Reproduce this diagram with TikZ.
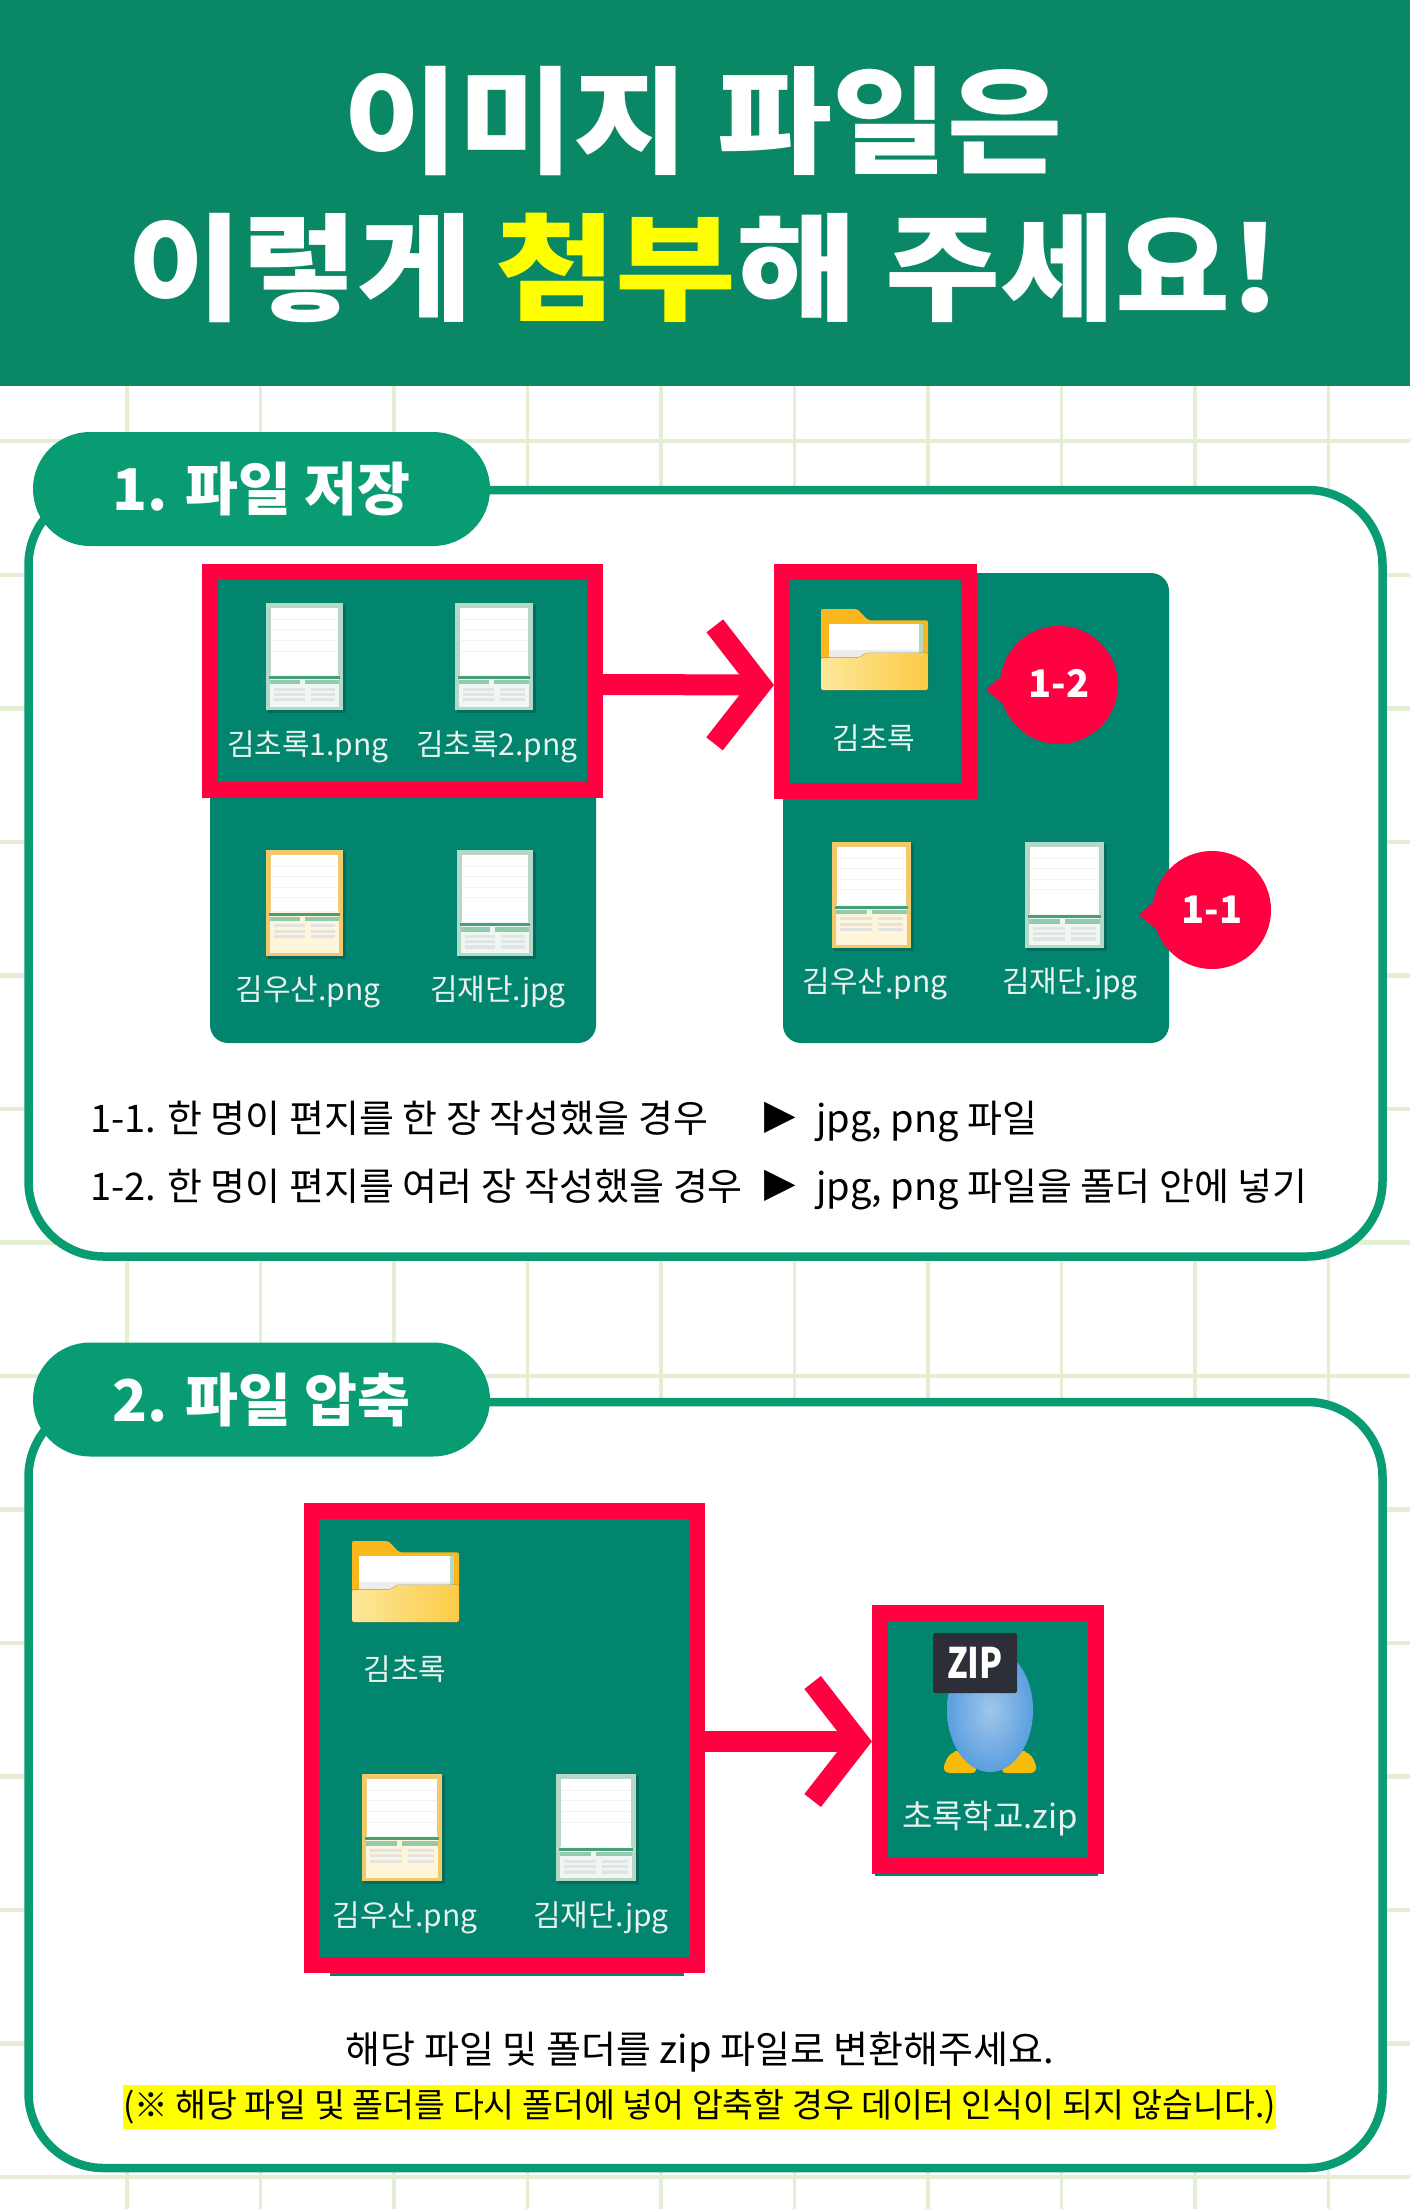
\documentclass[tikz,border=0pt]{standalone}
\usepackage{fontspec}
\usetikzlibrary{arrows.meta}
\setmainfont{Noto Sans CJK KR}
\newfontfamily\krblack{Noto Sans CJK KR Black}
\newfontfamily\symfont{DejaVu Sans}
\newcommand\pxsize[1]{\fontsize{#1}{#1}\selectfont}
\definecolor{headgreen}{HTML}{0A8866}
\definecolor{pillgreen}{HTML}{099C73}
\definecolor{gridgreen}{HTML}{E3EED5}
\definecolor{hotred}{HTML}{FF0040}
\definecolor{teal1}{HTML}{02856F}
\definecolor{hiyellow}{HTML}{FFFF00}
\definecolor{labelwhite}{HTML}{E9F2EF}
\definecolor{docgreen}{HTML}{B5D8C8}
\definecolor{docyellow}{HTML}{EFC96C}
\definecolor{docband}{HTML}{45A07A}
\definecolor{docbox}{HTML}{93C9AE}
\definecolor{lowgreen}{HTML}{EEF7F2}
\definecolor{lowyellow}{HTML}{FFF5D8}
\definecolor{tabyellow}{HTML}{FBB81E}
\definecolor{frontlight}{HTML}{FDE89A}
\definecolor{frontdark}{HTML}{FBCB45}
\definecolor{penguinmid}{HTML}{A0C6EA}
\definecolor{penguinedge}{HTML}{5A9FDF}
\definecolor{footyellow}{HTML}{F7BB0A}
\definecolor{zipdark}{HTML}{2C2E38}
\tikzset{
  titletext/.style={text=white,inner sep=0,anchor=center,font=\krblack\pxsize{125}},
  pillbox/.style={fill=pillgreen,rounded corners=57pt,minimum width=457pt,minimum height=114pt,inner sep=0,text=white,font=\bfseries\pxsize{57.5}},
  panelbox/.style={draw=pillgreen,line width=8.5pt,fill=white,rounded corners=75pt},
  tealpanel/.style={fill=teal1,rounded corners=18pt},
  redbox/.style={draw=hotred,fill=teal1,line width=16pt,inner sep=0},
  filelabel/.style={text=labelwhite,inner sep=0,anchor=center,font=\pxsize{30}},
  bodytext/.style={text=black,inner sep=0,anchor=base west,font=\pxsize{38}},
  bodycenter/.style={text=black,inner sep=0,anchor=center,font=\pxsize{38}},
  callout/.style={circle,fill=hotred,minimum size=118pt,inner sep=0,text=white,font=\bfseries\pxsize{38}},
  arrowmark/.style={inner sep=0,anchor=center,text=black,font=\symfont\pxsize{41}},
  thickarrow/.style={draw=hotred,line width=21pt,-{Straight Barb[length=46pt,width=118pt,line width=21pt,sharp]}},
}
% x y w h border lower bandpos
\newcommand\docicon[7]{%
  \begin{scope}[shift={(#1,#2)},xscale=#3,yscale=#4]
    \fill[black,opacity=.18] (.02,.02) rectangle (1.04,1.03);
    \fill[#5] (0,0) rectangle (1,1);
    \fill[white] (.06,.05) rectangle (.94,#7);
    \foreach \u in {.15,.25,.35,.45}{\draw[black!5,line width=.6pt] (.08,\u) -- (.92,\u);}
    \fill[#6] (.05,#7) rectangle (.95,.97);
    \fill[docband] (.04,#7+.01) rectangle (.96,#7+.04);
    \fill[docbox] (.05,#7+.05) rectangle (.44,#7+.09);
    \fill[docbox] (.5,#7+.05) rectangle (.95,#7+.09);
    \foreach \u/\v in {.12/.15,.17/.2,.22/.25}{\fill[black!11] (.1,#7+\u) rectangle (.5,#7+\v);\fill[black!11] (.58,#7+\u) rectangle (.9,#7+\v);}
  \end{scope}}
% x y w h
\newcommand\foldericon[4]{%
  \begin{scope}[shift={(#1,#2)},xscale=#3,yscale=#4]
    \fill[rounded corners=2pt,color=tabyellow] (0,1) -- (0,0) -- (.34,0) -- (.44,.14) -- (1,.14) -- (1,1) -- cycle;
    \fill[white] (.07,.19) rectangle (.92,.65);
    \fill[docgreen] (.92,.19) rectangle (.95,.65);
    \fill[black!7] (.07,.5) rectangle (.92,.62);
    \fill[rounded corners=2pt,left color=frontlight,right color=frontdark] (0,1) -- (0,.6) -- (.36,.6) -- (.42,.54) -- (1,.54) -- (1,1) -- cycle;
  \end{scope}}
\begin{document}
\begin{tikzpicture}[x=1pt,y=-1pt]
\useasboundingbox (0,0) rectangle (1410,2209);
\fill[white] (0,0) rectangle (1410,2209);
% grid
\foreach \gx in {127,260.5,394,527.5,661,794.5,928,1061.5,1195,1328.5}{\draw[gridgreen,line width=3.5pt] (\gx,386) -- (\gx,2209);}
\foreach \gy in {441,575,708.5,842,975.5,1109,1242.5,1376,1509.5,1643,1776.5,1910,2043.5,2177}{\draw[gridgreen,line width=4.5pt] (0,\gy) -- (1410,\gy);}
% header
\fill[headgreen] (0,0) rectangle (1410,386);
\node[titletext] (title1) at (703,121) {\scalebox{1}[.93]{이미지 파일은}};
\node[titletext] (title2) at (704,268) {\scalebox{1}[.93]{이렇게\hspace{-6pt} \scalebox{1.05}[1]{\textcolor{hiyellow}{첨부}해} 주세요!}};
% panels
\draw[panelbox] (28.5,490) rectangle (1382.5,1256.5);
\draw[panelbox] (28.5,1402) rectangle (1382.5,2168);
\node[pillbox] (pill1) at (261.5,489) {1. 파일 저장};
\node[pillbox] (pill2) at (261.5,1399.5) {2. 파일 압축};
% section 1 pictures
\fill[tealpanel] (210,573) rectangle (596,1043);
\fill[tealpanel] (783,573) rectangle (1169,1043);
\node[redbox,minimum width=385pt,minimum height=218pt] (boxA) at (402.5,681) {};
\node[redbox,minimum width=187pt,minimum height=219pt] (boxB) at (875.5,681.5) {};
\draw[thickarrow] ([yshift=-3.5pt]boxA.east) -- ([yshift=-3.5pt]boxB.west);
\docicon{266}{603}{77}{107}{docgreen}{lowgreen}{.67}
\docicon{455}{603}{78}{107}{docgreen}{lowgreen}{.67}
\docicon{266}{850}{77}{106}{docyellow}{lowyellow}{.58}
\docicon{457}{850}{76}{106}{docgreen}{lowgreen}{.68}
\node[filelabel] (a1) at (308,747) {김초록1.png};
\node[filelabel] (a2) at (497,747) {김초록2.png};
\node[filelabel] (a3) at (308,992) {김우산.png};
\node[filelabel] (a4) at (498,992) {김재단.jpg};
\foldericon{821}{609}{107}{81}
\node[filelabel] (b1) at (874,738) {김초록};
\docicon{832}{842}{79}{106}{docyellow}{lowyellow}{.59}
\docicon{1025}{842}{79}{106}{docgreen}{lowgreen}{.68}
\node[filelabel] (b2) at (875,984) {김우산.png};
\node[filelabel] (b3) at (1070,984) {김재단.jpg};
% callouts
\fill[hotred] (986,690) -- (1006,672) -- (1008,708) -- cycle;
\node[callout] (c12) at (1059,685) {\raisebox{2.5pt}{1-2}};
\fill[hotred] (1139,915) -- (1159,897) -- (1161,933) -- cycle;
\node[callout] (c11) at (1212,910) {\raisebox{1.5pt}{1-1}};
% text 1
\node[bodytext] (t1a) at (90,1132) {1-1. 한 명이 편지를 한 장 작성했을 경우};
\node[arrowmark] (t1b) at (780,1118) {▶};
\node[bodytext] (t1c) at (816,1132) {jpg, png 파일};
\node[bodytext] (t2a) at (90,1200) {1-2. 한 명이 편지를 여러 장 작성했을 경우};
\node[arrowmark] (t2b) at (780,1186) {▶};
\node[bodytext] (t2c) at (816,1200) {jpg, png 파일을 폴더 안에 넣기};
% section 2 pictures
\fill[teal1] (330,1970) rectangle (684,1975.5);
\fill[teal1] (875,1870) rectangle (1098,1876);
\node[redbox,line width=15.5pt,minimum width=386pt,minimum height=454pt] (boxC) at (504.5,1738) {};
\node[redbox,minimum width=216.5pt,minimum height=253pt] (boxD) at (988.2,1739.5) {};
\draw[thickarrow] ([yshift=-3.5pt]boxC.east) -- ([yshift=-2pt]boxD.west);
\foldericon{352}{1541}{107}{81}
\node[filelabel] (d1) at (405,1669) {김초록};
\docicon{362}{1774}{80}{107}{docyellow}{lowyellow}{.58}
\docicon{556}{1774}{80}{107}{docgreen}{lowgreen}{.68}
\node[filelabel] (d2) at (405,1918) {김우산.png};
\node[filelabel] (d3) at (601,1918) {김재단.jpg};
% penguin zip
\fill[footyellow,rounded corners=9pt] (941,1773) -- (950,1751) -- (962,1751) -- (980,1773) -- cycle;
\fill[footyellow,rounded corners=9pt] (998,1773) -- (1018,1751) -- (1030,1751) -- (1039,1773) -- cycle;
\shade[inner color=penguinmid,outer color=penguinedge] (990,1710) ellipse [x radius=43,y radius=62];
\node[fill=zipdark,rounded corners=2pt,minimum width=84pt,minimum height=60pt,inner sep=0,text=white,font=\bfseries\pxsize{42}] (ziptag) at (975,1663) {\scalebox{.8}[1]{ZIP}};
\node[filelabel,font=\pxsize{33}] (d4) at (990,1819) {초록학교.zip};
% text 2
\node[bodycenter] (t3) at (700,2052) {해당 파일 및 폴더를 zip 파일로 변환해주세요.};
\node[fill=hiyellow,inner sep=0,minimum width=1153pt,minimum height=44pt,text=black,font=\pxsize{33.6}] (t4) at (699.5,2107) {\raisebox{-4pt}{(※ 해당 파일 및 폴더를 다시 폴더에 넣어 압축할 경우 데이터 인식이 되지 않습니다.)}};
\end{tikzpicture}
\end{document}
